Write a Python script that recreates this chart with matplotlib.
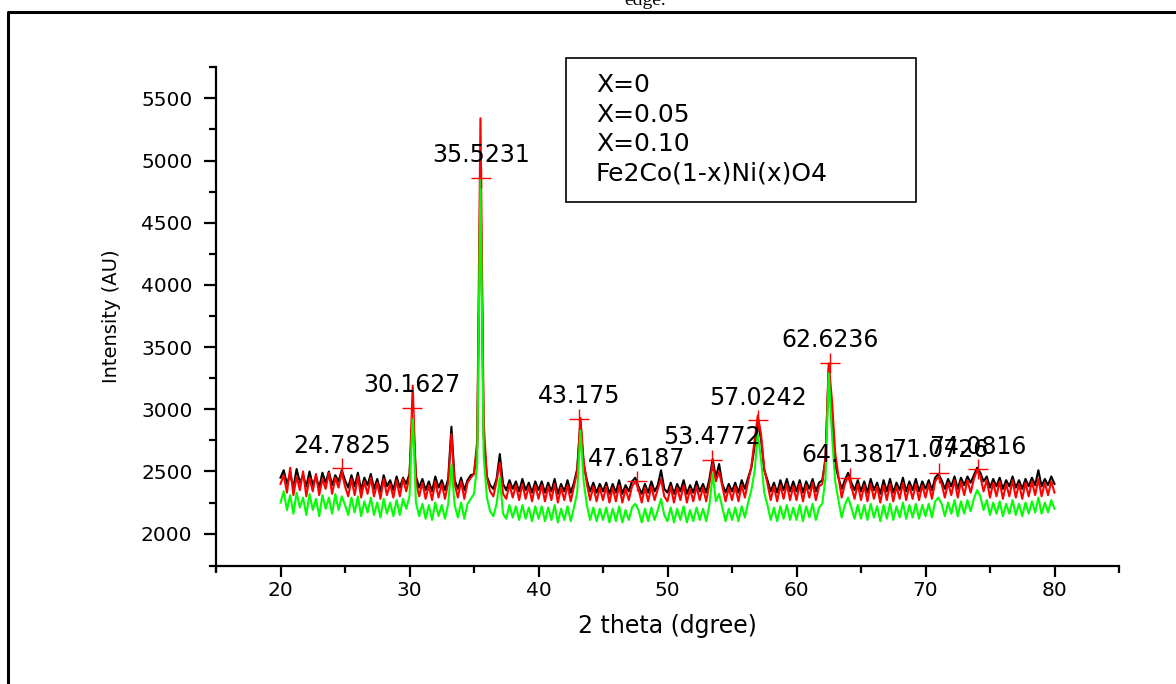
import numpy as np
import matplotlib
matplotlib.use('Agg')
import matplotlib.pyplot as plt
from matplotlib.ticker import MultipleLocator, FixedLocator
from matplotlib.lines import Line2D
from matplotlib.patches import Rectangle

# scan angles, 0.25 deg steps from 20 to 80
two_theta = np.arange(20, 80.001, 0.25)

# X=0 (black)
int_x0 = [2450, 2510, 2400, 2480, 2370, 2520, 2410, 2470, 2380, 2500, 2390, 2460, 2370, 2490, 2410, 2500, 2390, 2470, 2420, 2510,
          2430, 2370, 2470, 2380, 2490, 2350, 2450, 2390, 2480, 2360, 2440, 2340, 2470, 2380, 2430, 2350, 2460, 2370, 2450, 2400,
          2480, 2960, 2460, 2370, 2440, 2350, 2420, 2340, 2460, 2370, 2430, 2350, 2440, 2860, 2430, 2360, 2450, 2350, 2430, 2470,
          2480, 2700, 4900, 2780, 2460, 2390, 2360, 2440, 2640, 2400, 2350, 2430, 2360, 2420, 2340, 2440, 2350, 2410, 2330, 2420,
          2350, 2420, 2330, 2410, 2340, 2440, 2320, 2400, 2340, 2430, 2330, 2410, 2520, 2900, 2560, 2430, 2340, 2410, 2330, 2400,
          2340, 2410, 2320, 2400, 2330, 2430, 2320, 2390, 2340, 2420, 2450, 2380, 2320, 2400, 2330, 2420, 2340, 2390, 2510, 2360,
          2330, 2410, 2320, 2400, 2340, 2430, 2320, 2390, 2330, 2420, 2340, 2400, 2330, 2440, 2600, 2450, 2560, 2400, 2330, 2400,
          2340, 2410, 2330, 2430, 2360, 2450, 2530, 2700, 2900, 2760, 2510, 2430, 2340, 2410, 2330, 2430, 2350, 2440, 2340, 2420,
          2340, 2430, 2330, 2420, 2360, 2440, 2340, 2410, 2430, 2600, 3330, 2900, 2560, 2450, 2360, 2430, 2490, 2410, 2350, 2430,
          2340, 2420, 2330, 2440, 2350, 2410, 2320, 2430, 2340, 2440, 2330, 2410, 2350, 2450, 2340, 2420, 2350, 2440, 2340, 2420,
          2360, 2430, 2350, 2450, 2480, 2430, 2360, 2440, 2380, 2460, 2360, 2450, 2390, 2460, 2410, 2470, 2530, 2490, 2420, 2460,
          2370, 2440, 2380, 2450, 2360, 2430, 2380, 2460, 2370, 2430, 2360, 2440, 2380, 2450, 2390, 2510, 2380, 2440, 2390, 2460,
          2400]

# X=0.05 (red)
int_x005 = [2400, 2470, 2330, 2530, 2310, 2460, 2350, 2500, 2300, 2450, 2340, 2480, 2310, 2440, 2360, 2490, 2320, 2450, 2370, 2500,
            2380, 2300, 2440, 2310, 2460, 2290, 2420, 2320, 2450, 2300, 2410, 2280, 2440, 2310, 2400, 2290, 2430, 2300, 2440, 2340,
            2460, 3190, 2420, 2300, 2410, 2280, 2390, 2270, 2420, 2290, 2400, 2280, 2410, 2800, 2400, 2290, 2420, 2280, 2410, 2450,
            2480, 2750, 5340, 2900, 2450, 2340, 2300, 2420, 2570, 2320, 2280, 2400, 2290, 2390, 2270, 2400, 2280, 2380, 2260, 2390,
            2280, 2390, 2260, 2380, 2270, 2400, 2250, 2370, 2270, 2390, 2260, 2380, 2500, 2930, 2580, 2400, 2270, 2380, 2260, 2370,
            2270, 2380, 2250, 2370, 2260, 2390, 2250, 2360, 2270, 2380, 2420, 2360, 2250, 2370, 2260, 2380, 2270, 2360, 2440, 2300,
            2260, 2380, 2250, 2370, 2270, 2390, 2250, 2360, 2260, 2380, 2270, 2370, 2260, 2400, 2560, 2420, 2500, 2380, 2260, 2370,
            2270, 2380, 2260, 2390, 2290, 2420, 2540, 2750, 2950, 2800, 2520, 2400, 2270, 2380, 2260, 2390, 2280, 2400, 2270, 2380,
            2270, 2400, 2260, 2390, 2290, 2410, 2270, 2380, 2400, 2620, 3370, 3070, 2650, 2460, 2290, 2400, 2460, 2380, 2280, 2400,
            2270, 2390, 2260, 2400, 2280, 2380, 2250, 2390, 2270, 2400, 2260, 2380, 2280, 2410, 2270, 2390, 2280, 2400, 2270, 2390,
            2290, 2400, 2280, 2420, 2460, 2400, 2290, 2410, 2310, 2430, 2290, 2420, 2310, 2430, 2330, 2440, 2510, 2460, 2340, 2430,
            2290, 2410, 2300, 2420, 2280, 2400, 2300, 2430, 2290, 2400, 2280, 2410, 2300, 2420, 2310, 2440, 2300, 2410, 2310, 2420,
            2330]

# X=0.10 (green)
int_x010 = [2250, 2340, 2190, 2310, 2160, 2330, 2210, 2290, 2150, 2320, 2190, 2280, 2140, 2310, 2200, 2290, 2160, 2320, 2190, 2300,
            2230, 2150, 2290, 2170, 2300, 2140, 2260, 2170, 2290, 2150, 2250, 2130, 2280, 2160, 2250, 2140, 2270, 2150, 2280, 2200,
            2300, 2970, 2250, 2140, 2240, 2120, 2230, 2110, 2250, 2140, 2230, 2120, 2240, 2550, 2230, 2130, 2250, 2120, 2240, 2280,
            2320, 2560, 4850, 2620, 2290, 2180, 2140, 2240, 2450, 2160, 2120, 2230, 2130, 2220, 2110, 2230, 2120, 2210, 2100, 2220,
            2120, 2220, 2100, 2210, 2110, 2230, 2090, 2200, 2110, 2220, 2100, 2210, 2330, 2830, 2420, 2230, 2110, 2210, 2100, 2200,
            2110, 2210, 2090, 2200, 2100, 2220, 2090, 2190, 2110, 2210, 2240, 2190, 2090, 2200, 2100, 2210, 2110, 2190, 2280, 2150,
            2100, 2210, 2090, 2200, 2110, 2220, 2090, 2190, 2100, 2210, 2110, 2200, 2100, 2230, 2480, 2260, 2320, 2210, 2100, 2200,
            2110, 2210, 2100, 2220, 2130, 2250, 2350, 2500, 2800, 2600, 2330, 2230, 2110, 2210, 2100, 2220, 2120, 2230, 2110, 2210,
            2110, 2230, 2100, 2220, 2130, 2240, 2110, 2210, 2240, 2450, 3290, 2800, 2420, 2270, 2130, 2230, 2290, 2210, 2120, 2230,
            2120, 2230, 2110, 2240, 2130, 2220, 2100, 2230, 2120, 2240, 2110, 2220, 2130, 2250, 2120, 2230, 2130, 2240, 2120, 2230,
            2140, 2240, 2130, 2260, 2290, 2240, 2140, 2250, 2160, 2270, 2140, 2260, 2160, 2270, 2180, 2280, 2350, 2300, 2190, 2270,
            2150, 2250, 2160, 2260, 2140, 2240, 2160, 2270, 2150, 2240, 2140, 2250, 2160, 2260, 2170, 2290, 2160, 2250, 2170, 2270,
            2200]

# peak picks
peak_pos = [24.7825, 30.1627, 35.5231, 43.175, 47.6187, 53.4772, 57.0242, 62.6236, 64.1381, 71.0726, 74.0816]
peak_int = [2530, 3013, 4862, 2925, 2425, 2595, 2916, 3375, 2450, 2490, 2520]
peak_labels = ['24.7825', '30.1627', '35.5231', '43.175', '47.6187', '53.4772', '57.0242',
               '62.6236', '64.1381', '71.0726', '74.0816']

legend_lines = ['X=0', 'X=0.05', 'X=0.10', 'Fe2Co(1-x)Ni(x)O4']

plt.rcParams['font.family'] = ['DejaVu Sans']

fig = plt.figure(figsize=(11.76, 6.84), dpi=100)
ax = fig.add_axes([216/1176, 1-566/684, 903/1176, 499/684])

ax.plot(two_theta, int_x0, color='black', lw=1.5)
ax.plot(two_theta, int_x005, color='#ff0000', lw=1.5)
ax.plot(two_theta, int_x010, color='#00ff00', lw=1.5)
ax.plot(peak_pos, peak_int, ls='none', marker='+', color='#ff0000', ms=14, mew=1.0)

for xp, yp, lab in zip(peak_pos, peak_int, peak_labels):
    ax.annotate(lab, (xp, yp), xytext=(0, 16), textcoords='offset points',
                ha='center', va='center', fontsize=17)

ax.set_xlim(15, 85)
ax.set_ylim(1740, 5752)
ax.xaxis.set_major_locator(MultipleLocator(10))
ax.xaxis.set_minor_locator(FixedLocator(np.arange(15, 86, 10)))
ax.yaxis.set_major_locator(MultipleLocator(500))
ax.yaxis.set_minor_locator(FixedLocator(np.arange(2250, 5751, 500)))

for s in ['top', 'right']:
    ax.spines[s].set_visible(False)
for s in ['left', 'bottom']:
    ax.spines[s].set_linewidth(1.6)
ax.spines['left'].set_bounds(1700, 5752)
ax.spines['bottom'].set_bounds(14.5, 85)

ax.tick_params(axis='both', which='major', direction='out', width=1.6, labelsize=14.5)
ax.tick_params(axis='y', which='major', length=9, pad=8)
ax.tick_params(axis='y', which='minor', length=5, width=1.6)
ax.tick_params(axis='x', which='major', length=8, pad=3)
ax.tick_params(axis='x', which='minor', length=5, width=1.6)

ax.set_xlabel('2 theta (dgree)', fontsize=17, labelpad=10)
ax.set_ylabel('Intensity (AU)', fontsize=14, labelpad=14)

# legend box (text only)
fig.patches.append(Rectangle((566/1176, 1-202/684), (916-566)/1176, (202-58)/684,
                             transform=fig.transFigure, fill=False, ec='black', lw=1.2))
for i, t in enumerate(legend_lines):
    fig.text(596/1176, 1-(85+29.5*i)/684, t, fontsize=18, va='center', ha='left')

# outer frame of the document cell
fig.add_artist(Line2D([8/1176, 8/1176, 1.0], [0.0, 1-12/684, 1-12/684],
                      transform=fig.transFigure, color='black', lw=2.2))
fig.text(645/1176, 1-5/684, 'edge.', family='Liberation Serif', fontsize=14,
         ha='center', va='baseline')

fig.savefig('out.png', dpi=100)
